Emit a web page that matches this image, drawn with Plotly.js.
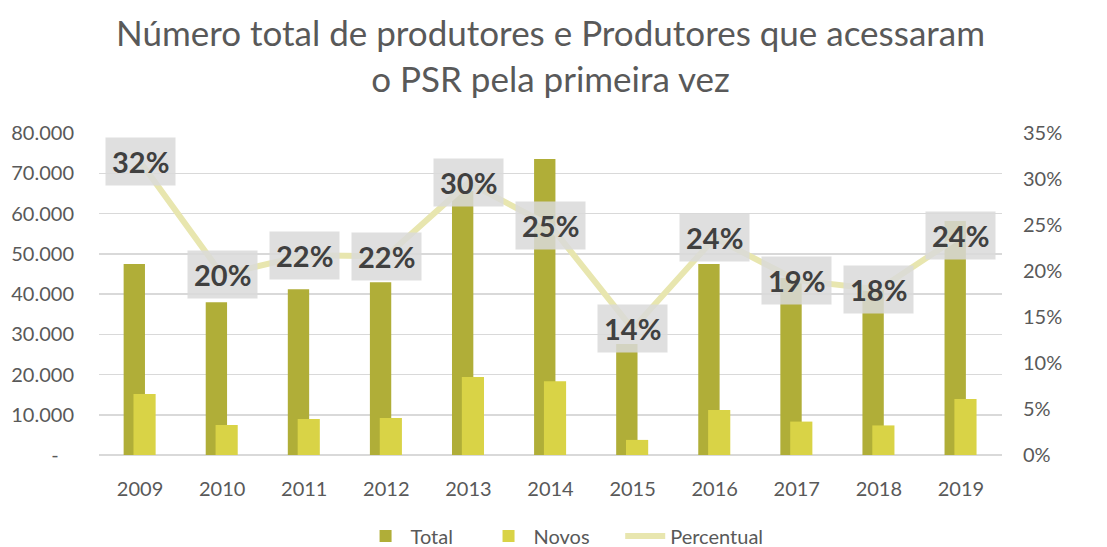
<!DOCTYPE html>
<html>
<head>
<meta charset="utf-8">
<script src="https://cdn.plot.ly/plotly-3.0.1.min.js"></script>
<style>html,body{margin:0;padding:0;background:#fff;}#chart{width:1107px;height:547px;}</style>
</head>
<body>
<div id="chart"></div>
<script>
const years = ['2009','2010','2011','2012','2013','2014','2015','2016','2017','2018','2019'];
const total = [47450, 37950, 41150, 42900, 65600, 73550, 27550, 47450, 44000, 41000, 58150];
const novos = [15150, 7450, 8950, 9200, 19400, 18300, 3750, 11200, 8300, 7350, 13900];
const percentual = [0.319, 0.196, 0.217, 0.216, 0.296, 0.249, 0.137, 0.236, 0.19, 0.18, 0.239];
const seriesNames = ['Total', 'Novos', 'Percentual'];
const leftTickVals = [0, 10000, 20000, 30000, 40000, 50000, 60000, 70000, 80000];
const leftTickText = ['-\u00a0\u00a0\u00a0', '10.000', '20.000', '30.000', '40.000', '50.000', '60.000', '70.000', '80.000'];
const rightTickVals = [0, 0.05, 0.10, 0.15, 0.20, 0.25, 0.30, 0.35];
const rightTickText = ['0%', '5%', '10%', '15%', '20%', '25%', '30%', '35%'];
const titleText = 'Número total de produtores e Produtores que acessaram<br>o PSR pela primeira vez';

const FONT = 'Lato, "Open Sans", sans-serif';
const GRAY = '#595959';
const PAD = '\u00a0\u00a0\u00a0\u00a0\u00a0';

const traces = [
  {type:'bar', name:seriesNames[0] + PAD, x:years, y:total, marker:{color:'#B0AE38'},
   width:0.26, offset:-0.2, hoverinfo:'skip'},
  {type:'bar', name:seriesNames[1] + PAD, x:years, y:novos, marker:{color:'#D9D346'},
   width:0.27, offset:-0.08, hoverinfo:'skip'},
  {type:'scatter', mode:'lines', name:seriesNames[2], x:years, y:percentual, yaxis:'y2',
   line:{color:'#E8E6AF', width:6}, hoverinfo:'skip'}
];

const annotations = years.map((yr, i) => ({
  x: i, y: percentual[i], xref:'x', yref:'y2',
  text: '<b>' + Math.round(percentual[i]*100) + '%</b>',
  showarrow:false,
  font:{family:FONT, size:29, color:'#404040'},
  bgcolor:'rgba(217,217,217,0.85)',
  borderpad:6, xanchor:'center', yanchor:'middle'
}));
annotations.push({
  x:0.5, y:1.242, xref:'paper', yref:'paper', xanchor:'center', yanchor:'middle',
  text:titleText, showarrow:false, align:'center',
  font:{family:FONT, size:35, color:GRAY}
});

const layout = {
  width:1107, height:547,
  paper_bgcolor:'#fff', plot_bgcolor:'#fff',
  margin:{l:99, r:105, t:133, b:92, autoexpand:false},
  barmode:'overlay',
  showlegend:true,
  legend:{orientation:'h', x:0.51, xref:'container', xanchor:'center', y:0.02, yref:'container', yanchor:'middle',
          font:{family:FONT, size:20, color:GRAY}, traceorder:'normal', itemwidth:40},
  xaxis:{type:'category', range:[-0.5, 10.5], autorange:false, showgrid:false, showline:false, zeroline:false,
         tickfont:{family:FONT, size:20, color:GRAY}, ticks:'', ticklabelstandoff:20},
  yaxis:{range:[0,80000], autorange:false, tickvals:leftTickVals, ticktext:leftTickText,
         showgrid:true, gridcolor:'#D9D9D9', gridwidth:1.5, zeroline:true, zerolinecolor:'#D9D9D9', zerolinewidth:1.5,
         tickfont:{family:FONT, size:20, color:GRAY}, ticks:'', ticklabelstandoff:24},
  yaxis2:{range:[0,0.35], autorange:false, tickvals:rightTickVals, ticktext:rightTickText, overlaying:'y', side:'right',
          showgrid:false, zeroline:false, tickfont:{family:FONT, size:20, color:GRAY}, ticks:'', ticklabelstandoff:20},
  annotations: annotations
};

Plotly.newPlot('chart', traces, layout, {displayModeBar:false, staticPlot:true});
</script>
</body>
</html>
